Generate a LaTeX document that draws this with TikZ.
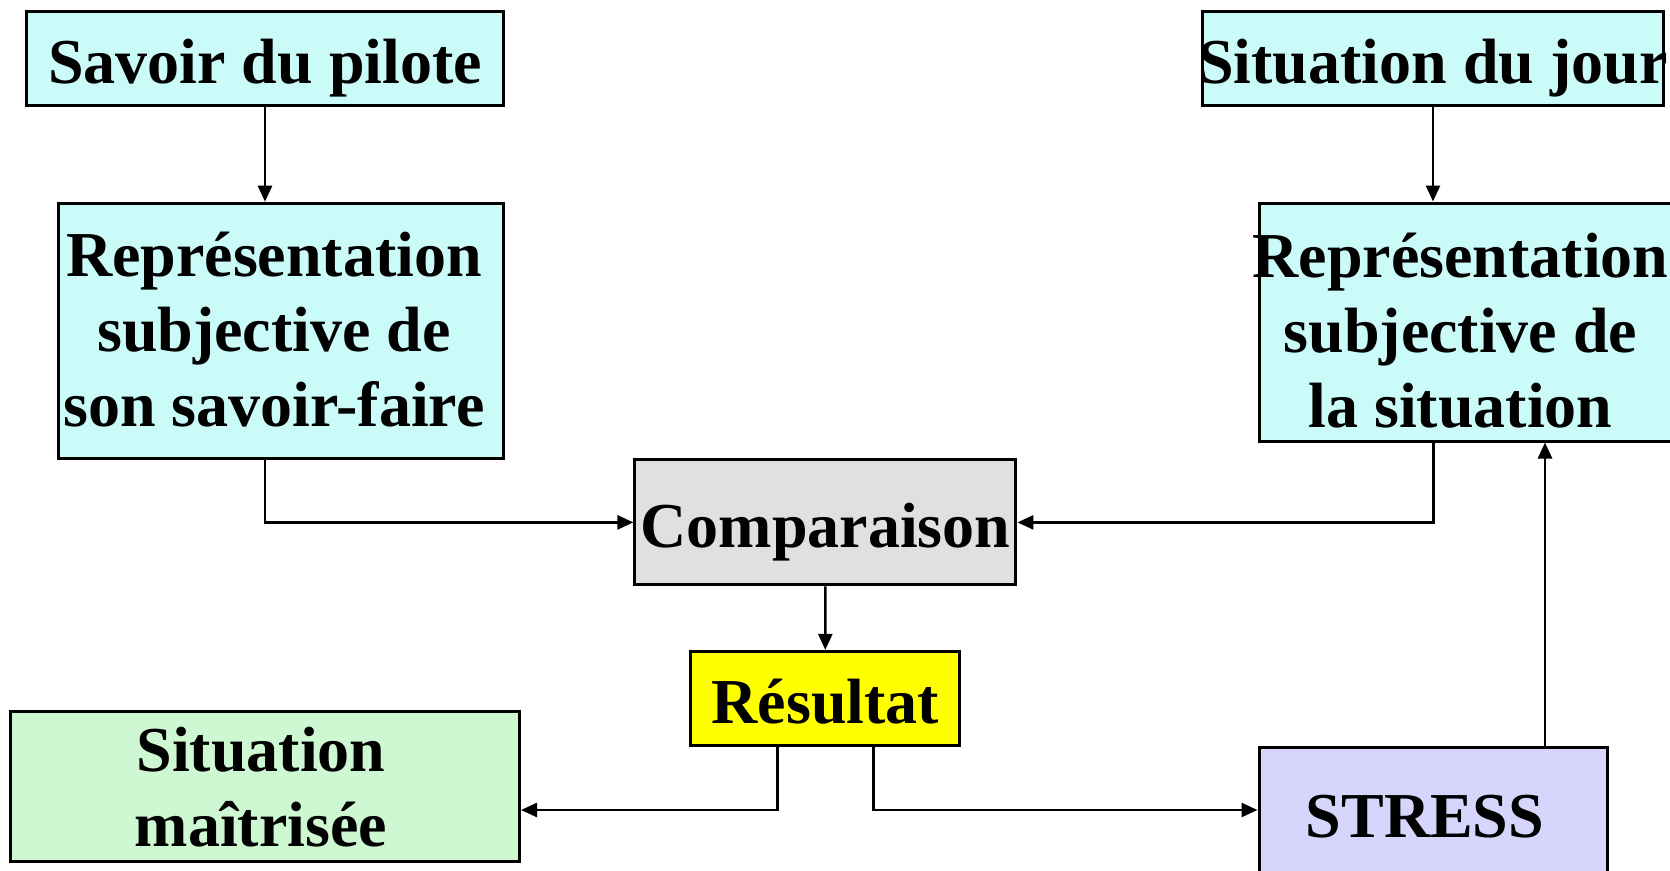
\documentclass[tikz,border=0pt]{standalone}
\usepackage{fontspec}
\setmainfont{Liberation Serif}
\usetikzlibrary{arrows.meta}
\definecolor{cyanbox}{HTML}{CBFBF8}
\definecolor{graybox}{HTML}{E0E0E0}
\definecolor{yellowbox}{HTML}{FFFF00}
\definecolor{greenbox}{HTML}{CEF8D2}
\definecolor{lavbox}{HTML}{D6D6FC}
\newcommand\boxtext[3]{\raisebox{-#2}[\height][\depth]{\kern#1\relax\begin{tabular}{@{}c@{}}#3\end{tabular}\kern-#1\relax}}
\begin{document}
\begin{tikzpicture}[x=1pt,y=-1pt,
  box/.style={draw=black, line width=3pt, inner sep=0pt, font=\fontsize{64}{75}\selectfont\bfseries},
  conn/.style={line width=2.5pt, line join=miter, -{Triangle[length=16pt,width=14pt]}}]
\useasboundingbox (0,0) rectangle (1670,870);
\node[box, fill=cyanbox, minimum width=477pt, minimum height=94pt] (sav) at (265,58.5) {\boxtext{0pt}{10pt}{Savoir du pilote}};
\node[box, fill=cyanbox, minimum width=461pt, minimum height=94pt] (sit) at (1433,58.5) {\makebox[0pt]{\boxtext{0pt}{10pt}{Situation du jour}}};
\node[box, fill=cyanbox, minimum width=445pt, minimum height=255pt] (repL) at (281,330.7) {\boxtext{-7pt}{6pt}{Représentation\\ subjective de\\ son savoir-faire}};
\node[box, fill=cyanbox, minimum width=441pt, minimum height=238pt] (repR) at (1479.5,322) {\boxtext{-19pt}{15pt}{Représentation\\ subjective de\\ la situation}};
\node[box, fill=graybox, minimum width=381pt, minimum height=125pt] (comp) at (825.4,522.4) {\boxtext{0pt}{10pt}{Comparaison}};
\node[box, fill=yellowbox, minimum width=269pt, minimum height=94pt] (res) at (825.3,698.4) {\boxtext{0pt}{10pt}{Résultat}};
\node[box, fill=greenbox, minimum width=509pt, minimum height=141pt] (sm) at (265,786) {\boxtext{-4pt}{8pt}{Situation\\ maîtrisée}};
\node[box, fill=lavbox, minimum width=348pt, minimum height=160pt] (stress) at (1433,827.6) {\boxtext{-8pt}{-5pt}{STRESS}};
\coordinate (jL) at (265,0);
\coordinate (jR) at (1433.3,0);
\coordinate (r1) at (777.3,810);
\coordinate (r2) at (873.3,810);
\coordinate (up) at (1545,0);
\draw[conn] (sav.south) -- (sav.south |- repL.north);
\draw[conn] (sit.south) -- (sit.south |- repR.north);
\draw[conn] (repL.south -| jL) |- (comp.west);
\draw[conn] (repR.south -| jR) |- (comp.east);
\draw[conn] (comp.south) -- (res.north);
\draw[conn] (res.south -| r1) |- (sm.east |- r1);
\draw[conn] (res.south -| r2) |- (stress.west |- r2);
\draw[conn] (stress.north -| up) -- (repR.south -| up);
\end{tikzpicture}
\end{document}
